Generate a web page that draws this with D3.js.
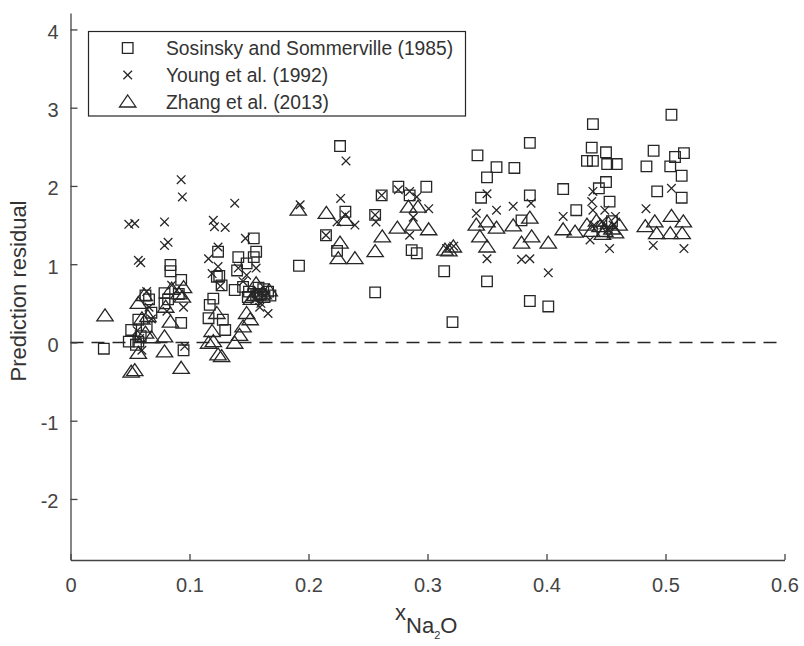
<!DOCTYPE html>
<html>
<head>
<meta charset="utf-8">
<script src="https://cdn.jsdelivr.net/npm/d3@7"></script>
<style>
    body { margin: 0; background: #fff; }
    svg text { font-family: "Liberation Sans", Arial, sans-serif; fill: #333; }
</style>
</head>
<body>
<script>
// data: [x_Na2O, residual]
const sosinsky = [
    [0.028, -0.08],
    [0.051, 0.16], [0.049, 0.01], [0.057, 0.01], [0.057, 0.29], [0.055, -0.03], [0.059, 0.08],
    [0.063, 0.60], [0.066, 0.55], [0.068, 0.38], [0.064, 0.20],
    [0.084, 0.99], [0.084, 0.91], [0.079, 0.63], [0.079, 0.50], [0.082, 0.55],
    [0.093, 0.80], [0.093, 0.25], [0.095, -0.10], [0.091, 0.62],
    [0.124, 1.16], [0.123, 0.84], [0.127, 0.73], [0.120, 0.56], [0.117, 0.48], [0.116, 0.31],
    [0.128, 0.29], [0.130, 0.16], [0.125, 0.85],
    [0.154, 1.33], [0.156, 1.16], [0.141, 1.09], [0.154, 1.09], [0.148, 1.01], [0.138, 0.67],
    [0.145, 0.71], [0.150, 0.65], [0.156, 0.60], [0.160, 0.62], [0.163, 0.58], [0.166, 0.65],
    [0.168, 0.60], [0.158, 0.70], [0.149, 0.58], [0.162, 0.68], [0.140, 0.92],
    [0.192, 0.98],
    [0.2265, 2.51], [0.2147, 1.37], [0.231, 1.67], [0.224, 1.17],
    [0.2615, 1.88], [0.256, 1.63], [0.256, 0.64],
    [0.2755, 1.99], [0.299, 1.99], [0.285, 1.88], [0.2867, 1.18], [0.291, 1.14],
    [0.314, 0.91], [0.321, 0.26],
    [0.342, 2.39], [0.350, 2.11], [0.345, 1.85], [0.358, 2.24], [0.350, 0.78],
    [0.373, 2.23], [0.386, 2.55], [0.386, 1.88], [0.379, 1.56], [0.386, 0.53],
    [0.4015, 0.46], [0.414, 1.96], [0.425, 1.69],
    [0.439, 2.79], [0.438, 2.49], [0.434, 2.32], [0.439, 2.32], [0.450, 2.43], [0.451, 2.28],
    [0.459, 2.28], [0.450, 2.05], [0.444, 1.97], [0.453, 1.80], [0.447, 1.42], [0.455, 1.55],
    [0.505, 2.91], [0.490, 2.45], [0.484, 2.25], [0.504, 2.25], [0.508, 2.37], [0.5155, 2.42],
    [0.5136, 2.13], [0.493, 1.93], [0.5136, 1.85]
]

const young = [
    [0.049, 1.51], [0.054, 1.52], [0.057, 1.05], [0.059, 1.02], [0.056, 0.15], [0.058, 0.05], [0.060, -0.10],
    [0.064, 0.65], [0.066, 0.45], [0.068, 0.30],
    [0.079, 1.54], [0.079, 1.24], [0.082, 1.28], [0.085, 0.73], [0.081, 0.40],
    [0.093, 2.08], [0.094, 1.86], [0.095, 0.45], [0.096, -0.05],
    [0.120, 1.56], [0.121, 1.48], [0.130, 1.47], [0.124, 1.22], [0.116, 1.07], [0.124, 0.97],
    [0.119, 0.88], [0.126, 0.72],
    [0.138, 1.78], [0.147, 1.33], [0.141, 0.95], [0.156, 0.95], [0.148, 0.86], [0.166, 0.37],
    [0.159, 0.45], [0.152, 0.62], [0.158, 0.66], [0.163, 0.60], [0.155, 0.55], [0.160, 0.50], [0.145, 0.78],
    [0.193, 1.76],
    [0.2315, 2.32], [0.227, 1.84], [0.2147, 1.37], [0.224, 1.54], [0.239, 1.50], [0.231, 1.63],
    [0.2615, 1.88], [0.256, 1.63], [0.2567, 1.54],
    [0.2755, 1.95], [0.285, 1.93], [0.291, 1.86], [0.301, 1.71], [0.285, 1.37], [0.288, 1.60],
    [0.316, 1.20], [0.322, 1.23],
    [0.350, 1.90], [0.341, 1.65], [0.358, 1.69], [0.372, 1.74], [0.350, 1.07],
    [0.387, 1.78], [0.379, 1.06], [0.386, 1.07], [0.4015, 0.89],
    [0.414, 1.61], [0.439, 1.93], [0.438, 1.80], [0.439, 1.69], [0.449, 1.69], [0.458, 1.61],
    [0.4366, 1.31], [0.453, 1.20], [0.440, 1.50], [0.447, 1.55], [0.452, 1.45], [0.456, 1.50],
    [0.505, 1.97], [0.4836, 1.71], [0.4897, 1.24], [0.5155, 1.20]
]

const zhang = [
    [0.029, 0.34],
    [0.051, -0.38], [0.054, -0.36], [0.057, 0.50], [0.057, -0.14], [0.060, 0.30], [0.062, 0.60],
    [0.065, 0.33], [0.063, 0.12], [0.068, 0.06],
    [0.084, 0.26], [0.079, 0.07], [0.079, -0.12], [0.085, 0.68], [0.080, 0.45],
    [0.093, -0.33], [0.091, 0.62], [0.095, 0.70], [0.094, 0.58],
    [0.123, 0.37], [0.119, 0.14], [0.120, 0.01], [0.116, -0.01], [0.127, -0.18], [0.124, -0.16],
    [0.156, 0.75], [0.148, 0.37], [0.151, 0.29], [0.145, 0.20], [0.142, 0.09], [0.138, -0.01],
    [0.155, 0.60], [0.162, 0.62], [0.167, 0.66], [0.152, 0.55],
    [0.1914, 1.69], [0.215, 1.65],
    [0.231, 1.56], [0.2265, 1.27], [0.225, 1.07], [0.239, 1.07],
    [0.262, 1.35], [0.256, 1.16],
    [0.284, 1.73], [0.292, 1.73], [0.2747, 1.46], [0.288, 1.50], [0.301, 1.44],
    [0.3147, 1.18], [0.3217, 1.22], [0.318, 1.17],
    [0.341, 1.50], [0.350, 1.54], [0.344, 1.35], [0.350, 1.22], [0.358, 1.46], [0.372, 1.49],
    [0.386, 1.59], [0.3875, 1.35], [0.379, 1.27], [0.4015, 1.27],
    [0.414, 1.44], [0.424, 1.41],
    [0.434, 1.50], [0.438, 1.42], [0.442, 1.55], [0.445, 1.48], [0.449, 1.42], [0.452, 1.52],
    [0.455, 1.45], [0.458, 1.40], [0.461, 1.50], [0.447, 1.38],
    [0.483, 1.48], [0.491, 1.54], [0.505, 1.61], [0.515, 1.54], [0.4926, 1.39], [0.504, 1.39], [0.514, 1.39]
]

const legendLabels = ['Sosinsky and Sommerville (1985)', 'Young et al. (1992)', 'Zhang et al. (2013)']
const xTicks = [0, 0.1, 0.2, 0.3, 0.4, 0.5, 0.6]
const yTicks = [-2, -1, 0, 1, 2, 3, 4]

const w = 804
const h = 646
const ink = '#262626'

const svg = d3.select('body')
    .append('svg')
    .attr('width', w)
    .attr('height', h)

const xScale = d3.scaleLinear()
    .domain([0, 0.6])
    .range([70.5, 784.5])

const yScale = d3.scaleLinear()
    .domain([-2.78, 4.21])
    .range([560, 13])

// marker shapes, centred on 0,0
const markers = {
    square: 'M-5.3,-5.3H5.3V5.3H-5.3Z',
    cross: 'M-4.3,-4.3L4.3,4.3M-4.3,4.3L4.3,-4.3',
    triangle: 'M0,-7L8.2,5L-8.2,5Z'
}

const series = [
    {data: sosinsky, shape: markers.square},
    {data: young, shape: markers.cross},
    {data: zhang, shape: markers.triangle}
]

// zero line
svg.append('line')
    .attr('x1', xScale(0))
    .attr('x2', xScale(0.6))
    .attr('y1', yScale(0))
    .attr('y2', yScale(0))
    .attr('stroke', ink)
    .attr('stroke-width', 1.4)
    .attr('stroke-dasharray', '13,8')

series.forEach(s => {
    svg.append('g')
        .selectAll('path')
        .data(s.data)
        .enter()
        .append('path')
        .attr('d', s.shape)
        .attr('transform', d => 'translate(' + xScale(d[0]) + ',' + yScale(d[1]) + ')')
        .attr('fill', 'none')
        .attr('stroke', ink)
        .attr('stroke-width', 1.3)
})

const xAxis = d3.axisBottom(xScale)
    .tickValues(xTicks)
    .tickFormat(d => String(d))
    .tickSizeInner(-6)
    .tickSizeOuter(0)
    .tickPadding(17)

const yAxis = d3.axisLeft(yScale)
    .tickValues(yTicks)
    .tickFormat(d => String(d))
    .tickSizeInner(-7)
    .tickSizeOuter(0)
    .tickPadding(12)

const gx = svg.append('g')
    .attr('transform', 'translate(0,560)')
    .call(xAxis)

const gy = svg.append('g')
    .attr('transform', 'translate(70.5,0)')
    .call(yAxis)

;[gx, gy].forEach(g => {
    g.selectAll('path, line').attr('stroke', '#444').attr('stroke-width', 1.3)
    g.selectAll('text')
        .style('font-size', '20px')
        .style('fill', '#444')
        .style('font-family', '"Liberation Sans", Arial, sans-serif')
})
gx.selectAll('text').attr('dy', '0.75em')
gy.selectAll('text').attr('dy', '0.45em')

// axis labels
svg.append('text')
    .attr('transform', 'translate(26,291) rotate(-90)')
    .attr('text-anchor', 'middle')
    .style('font-size', '22px')
    .text('Prediction residual')

const xl = svg.append('text')
    .attr('x', 395)
    .attr('y', 620)
    .style('font-size', '22px')
xl.append('tspan').text('x')
xl.append('tspan').attr('dy', 13).text('Na')
xl.append('tspan').attr('dy', 6).style('font-size', '11px').text('2')
xl.append('tspan').attr('dy', -6).text('O')

// legend
const legend = svg.append('g')

legend.append('rect')
    .attr('x', 88.5)
    .attr('y', 31.5)
    .attr('width', 377)
    .attr('height', 84.5)
    .attr('fill', '#fff')
    .attr('stroke', ink)
    .attr('stroke-width', 1.2)

const rowY = [48, 75, 102]

legend.selectAll('path')
    .data(series)
    .enter()
    .append('path')
    .attr('d', d => d.shape)
    .attr('transform', (d, i) => 'translate(127.7,' + rowY[i] + ')')
    .attr('fill', 'none')
    .attr('stroke', ink)
    .attr('stroke-width', 1.3)

legend.selectAll('text')
    .data(legendLabels)
    .enter()
    .append('text')
    .attr('x', 166)
    .attr('y', (d, i) => rowY[i])
    .attr('dy', '0.36em')
    .style('font-size', '19.3px')
    .text(d => d)
</script>
</body>
</html>
